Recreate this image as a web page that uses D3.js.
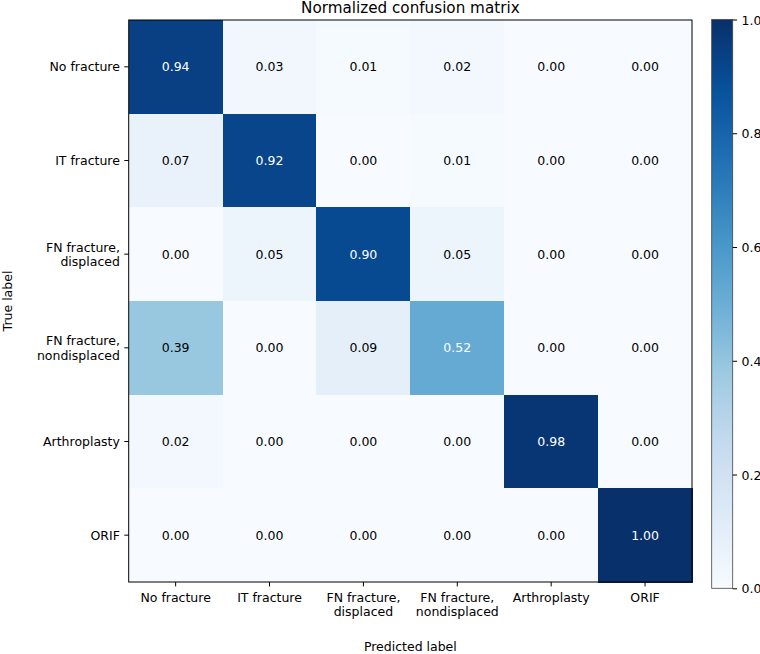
<!DOCTYPE html>
<html>
<head>
<meta charset="utf-8">
<script src="https://cdn.jsdelivr.net/npm/d3@7"></script>
<style>
  html, body { margin: 0; padding: 0; background: #fff; }
  svg { display: block; font-family: "DejaVu Sans", sans-serif; }
</style>
</head>
<body>
<svg id="chart" width="760" height="654"></svg>
<script>
// ---- data ----
const predictedLabels = ["No fracture", "IT fracture", "FN fracture,\ndisplaced", "FN fracture,\nnondisplaced", "Arthroplasty", "ORIF"];
const trueLabels = ["No fracture", "IT fracture", "FN fracture,\ndisplaced", "FN fracture,\nnondisplaced", "Arthroplasty", "ORIF"];
const rowNoFracture   = [0.94, 0.03, 0.01, 0.02, 0.00, 0.00];
const rowIT           = [0.07, 0.92, 0.00, 0.01, 0.00, 0.00];
const rowFNDisplaced  = [0.00, 0.05, 0.90, 0.05, 0.00, 0.00];
const rowFNNondisp    = [0.39, 0.00, 0.09, 0.52, 0.00, 0.00];
const rowArthroplasty = [0.02, 0.00, 0.00, 0.00, 0.98, 0.00];
const rowORIF         = [0.00, 0.00, 0.00, 0.00, 0.00, 1.00];
const matrix = [rowNoFracture, rowIT, rowFNDisplaced, rowFNNondisp, rowArthroplasty, rowORIF];
const colorbarTicks = [0.0, 0.2, 0.4, 0.6, 0.8, 1.0];
const titleText = "Normalized confusion matrix";
const xTitle = "Predicted label";
const yTitle = "True label";

// ---- layout ----
const svg = d3.select("#chart");
const L = 128.7, R = 692, T = 20, B = 582;
const fs = 12.5;
const blues = ["#f7fbff","#deebf7","#c6dbef","#9ecae1","#6baed6","#4292c6","#2171b5","#08519c","#08306b"];
const color = d3.scaleLinear().domain(d3.range(9).map(i => i / 8)).range(blues).clamp(true);

const x = d3.scaleBand().domain(d3.range(predictedLabels.length)).range([L, R]);
const y = d3.scaleBand().domain(d3.range(trueLabels.length)).range([T, B]);

const cells = [];
matrix.forEach((row, i) => row.forEach((v, j) => cells.push({ i, j, v })));

const g = svg.append("g");
g.selectAll("rect.cell").data(cells).enter().append("rect")
  .attr("class", "cell")
  .attr("x", d => x(d.j))
  .attr("y", d => y(d.i))
  .attr("width", x.bandwidth() + 0.5)
  .attr("height", y.bandwidth() + 0.5)
  .attr("fill", d => color(d.v))
  .attr("shape-rendering", "crispEdges");

const thresh = d3.max(cells, d => d.v) / 2;
g.selectAll("text.val").data(cells).enter().append("text")
  .attr("class", "val")
  .attr("x", d => x(d.j) + x.bandwidth() / 2)
  .attr("y", d => y(d.i) + y.bandwidth() / 2 + fs * 0.365)
  .attr("text-anchor", "middle")
  .attr("font-size", fs)
  .attr("fill", d => d.v > thresh ? "#fff" : "#000")
  .text(d => d.v.toFixed(2));

// frame
svg.append("rect").attr("x", L).attr("y", T).attr("width", R - L).attr("height", B - T)
  .attr("fill", "none").attr("stroke", "#000").attr("stroke-width", 1);

// x axis
const xAxis = d3.axisBottom(x).tickSize(4.4).tickPadding(4.4).tickFormat(() => "");
const xg = svg.append("g").attr("transform", `translate(0,${B})`).call(xAxis);
xg.select(".domain").remove();
xg.selectAll(".tick line").attr("stroke", "#000").attr("stroke-width", 1);
xg.selectAll(".tick").each(function(d) {
  const lines = predictedLabels[d].split("\n");
  const t = d3.select(this).append("text")
    .attr("fill", "#000").attr("font-size", fs).attr("text-anchor", "middle")
    .attr("font-family", "DejaVu Sans, sans-serif");
  lines.forEach((ln, k) => t.append("tspan").attr("x", 0).attr("y", 20 + k * 14.3).text(ln));
});

// y axis
const yAxis = d3.axisLeft(y).tickSize(4.4).tickPadding(4.4).tickFormat(() => "");
const yg = svg.append("g").attr("transform", `translate(${L},0)`).call(yAxis);
yg.select(".domain").remove();
yg.selectAll(".tick line").attr("stroke", "#000").attr("stroke-width", 1);
yg.selectAll(".tick").each(function(d) {
  const lines = trueLabels[d].split("\n");
  const t = d3.select(this).append("text")
    .attr("fill", "#000").attr("font-size", fs).attr("text-anchor", "middle")
    .attr("font-family", "DejaVu Sans, sans-serif");
  const n = lines.length;
  const lh = 14.3;
  lines.forEach((ln, k) => t.append("tspan")
    .attr("x", -8.8).attr("text-anchor", "end")
    .attr("y", fs * 0.365 + (k - (n - 1) / 2) * lh).text(ln));
});

// title & axis labels
svg.append("text").attr("x", (L + R) / 2).attr("y", 13).attr("text-anchor", "middle")
  .attr("font-size", 15.2).attr("fill", "#000").text(titleText);
svg.append("text").attr("x", (L + R) / 2).attr("y", 651).attr("text-anchor", "middle")
  .attr("font-size", fs).attr("fill", "#000").text(xTitle);
svg.append("text").attr("transform", `translate(11.5,${(T + B) / 2}) rotate(-90)`)
  .attr("text-anchor", "middle").attr("font-size", fs).attr("fill", "#000").text(yTitle);

// colorbar
const cbL = 711.7, cbR = 732.7, cbT = 19.5, cbB = 588.3;
const defs = svg.append("defs");
const grad = defs.append("linearGradient").attr("id", "cbgrad")
  .attr("x1", 0).attr("y1", 1).attr("x2", 0).attr("y2", 0);
d3.range(0, 1.0001, 0.02).forEach(t => grad.append("stop").attr("offset", t).attr("stop-color", color(t)));
svg.append("rect").attr("x", cbL).attr("y", cbT).attr("width", cbR - cbL).attr("height", cbB - cbT)
  .attr("fill", "url(#cbgrad)").attr("stroke", "#444").attr("stroke-width", 0.8);
const cbScale = d3.scaleLinear().domain([0, 1]).range([cbB, cbT]);
const cbAxis = d3.axisRight(cbScale).tickValues(colorbarTicks).tickSize(4.4).tickPadding(4.4)
  .tickFormat(d3.format(".1f"));
const cg = svg.append("g").attr("transform", `translate(${cbR},0)`).call(cbAxis);
cg.select(".domain").remove();
cg.selectAll(".tick line").attr("stroke", "#000").attr("stroke-width", 1);
cg.selectAll(".tick text").attr("fill", "#000").attr("font-size", fs)
  .attr("font-family", "DejaVu Sans, sans-serif").attr("dy", null).attr("y", fs * 0.365);
</script>
</body>
</html>
